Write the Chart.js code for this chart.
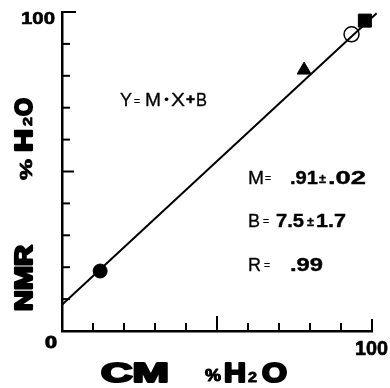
<!DOCTYPE html>
<html>
<head>
<meta charset="utf-8">
<script src="https://cdn.jsdelivr.net/npm/chart.js@4/dist/chart.umd.min.js"></script>
<style>
  body { margin: 0; background: #fff; }
  #grafico { display: block; }
</style>
</head>
<body>
<canvas id="grafico" width="390" height="388"></canvas>
<script>
// datos
const cmValues = [12.3, 78.1, 93.4, 97.7];      // CM %H2O
const nmrValues = [18.8, 81.8, 93.0, 97.3];     // NMR %H2O
const fitX = [0, 101.5];                        // recta de ajuste
const fitY = [8.2, 99.6];
const tickValues = [10, 20, 30, 40, 50, 60, 70, 80, 90, 100];
const axisLabels = ['0', '100'];

const FONT = '"Liberation Sans", Arial, sans-serif';

// dibuja un texto estirado a un ancho dado (y engrosado si grueso > 0)
const textoAncho = (ctx, str, x, y, font, w, grueso) => {
  ctx.font = font;
  const m = ctx.measureText(str).width;
  ctx.save();
  ctx.translate(x, y);
  if (w) ctx.scale(w / m, 1);
  ctx.fillText(str, 0, 0);
  if (grueso) {
    ctx.lineWidth = grueso;
    ctx.lineJoin = 'round';
    ctx.strokeStyle = '#000';
    ctx.strokeText(str, 0, 0);
  }
  ctx.restore();
}

const marcas = {
  id: 'marcas',
  afterDraw(chart) {
    const {ctx, scales: {x, y}} = chart;
    const x0 = x.getPixelForValue(0);
    const y0 = y.getPixelForValue(0);
    ctx.save();
    ctx.strokeStyle = '#000';
    ctx.lineWidth = 2;
    ctx.lineCap = 'butt';
    tickValues.forEach(v => {
      const px = x.getPixelForValue(v);
      const lx = v == 50 ? 15 : (v == 100 ? 12 : 8);
      ctx.beginPath();
      ctx.moveTo(px, y0);
      ctx.lineTo(px, y0 - lx);
      ctx.stroke();
      const py = y.getPixelForValue(v);
      const ly = v == 50 ? 12 : (v == 100 ? 14 : 8);
      ctx.beginPath();
      ctx.moveTo(x0, py);
      ctx.lineTo(x0 + ly, py);
      ctx.stroke();
    });

    ctx.fillStyle = '#000';
    ctx.textAlign = 'left';
    ctx.textBaseline = 'alphabetic';

    // etiquetas 0 y 100
    textoAncho(ctx, axisLabels[0], x0 - 17, y0 + 17, 'bold 16px ' + FONT, 12, 1);
    textoAncho(ctx, axisLabels[1], x.getPixelForValue(100) - 17, y0 + 24, 'bold 20px ' + FONT, 33, 0.6);
    textoAncho(ctx, axisLabels[1], x0 - 41, y.getPixelForValue(100) + 12, 'bold 17px ' + FONT, 34, 0.6);

    // titulo eje x
    textoAncho(ctx, 'CM', 101, 382, 'bold 27px ' + FONT, 68, 2.2);
    textoAncho(ctx, '%', 205, 381, 'bold 16px ' + FONT, 16, 1);
    textoAncho(ctx, 'H', 224, 382, 'bold 27px ' + FONT, 22, 2.2);
    textoAncho(ctx, '2', 248, 382, 'bold 14px ' + FONT, 9, 0.8);
    textoAncho(ctx, 'O', 262, 382, 'bold 27px ' + FONT, 25, 2.2);

    // titulo eje y (girado)
    ctx.save();
    ctx.translate(32, 312);
    ctx.rotate(-Math.PI / 2);
    textoAncho(ctx, 'NMR', 1, 0, 'bold 24px ' + FONT, 66, 2.2);
    ctx.restore();
    ctx.save();
    ctx.translate(32, 180);
    ctx.rotate(-Math.PI / 2);
    textoAncho(ctx, '%', 0, 0, 'bold 16px ' + FONT, 21, 0.8);
    textoAncho(ctx, 'H', 28, 0, 'bold 24px ' + FONT, 23, 2.2);
    textoAncho(ctx, '2', 54, 0, 'bold 13px ' + FONT, 9, 0.8);
    textoAncho(ctx, 'O', 64, 0, 'bold 24px ' + FONT, 18, 2.2);
    ctx.restore();

    // ecuacion
    textoAncho(ctx, 'Y', 120, 106, '18px ' + FONT, 12, 0.3);
    textoAncho(ctx, '=', 134, 105, '11px ' + FONT, 6, 0.3);
    textoAncho(ctx, 'M', 145, 106, '18px ' + FONT, 16, 0.3);
    textoAncho(ctx, '•', 164, 104, '12px ' + FONT, 5);
    textoAncho(ctx, 'X', 171, 106, '18px ' + FONT, 14, 0.3);
    textoAncho(ctx, '+', 186, 104, 'bold 14px ' + FONT, 9, 0.5);
    textoAncho(ctx, 'B', 196, 106, '18px ' + FONT, 11, 0.3);

    // parametros
    textoAncho(ctx, 'M', 248, 184, '18px ' + FONT, 16, 0.3);
    textoAncho(ctx, '=', 265, 182, '11px ' + FONT, 6, 0.3);
    textoAncho(ctx, '.91', 290, 184, 'bold 19px ' + FONT, 28, 0.4);
    textoAncho(ctx, '±', 319, 183, 'bold 12px ' + FONT, 7, 0.3);
    textoAncho(ctx, '.02', 328, 184, 'bold 19px ' + FONT, 38, 0.4);

    textoAncho(ctx, 'B', 248, 227, '18px ' + FONT, 12, 0.3);
    textoAncho(ctx, '=', 263, 225, '11px ' + FONT, 6, 0.3);
    textoAncho(ctx, '7.5', 276, 227, 'bold 19px ' + FONT, 28, 0.4);
    textoAncho(ctx, '±', 307, 226, 'bold 12px ' + FONT, 7, 0.3);
    textoAncho(ctx, '1.7', 316, 227, 'bold 19px ' + FONT, 30, 0.4);

    textoAncho(ctx, 'R', 248, 271, '18px ' + FONT, 13, 0.3);
    textoAncho(ctx, '=', 264, 269, '11px ' + FONT, 6, 0.3);
    textoAncho(ctx, '.99', 290, 271, 'bold 19px ' + FONT, 33, 0.4);
    ctx.restore();
  }
}

const puntos = cmValues.map((v, i) => ({x: v, y: nmrValues[i]}));
const recta = fitX.map((v, i) => ({x: v, y: fitY[i]}));

new Chart(document.getElementById('grafico'), {
  type: 'scatter',
  data: {
    datasets: [{
      type: 'line',
      data: recta,
      borderColor: '#000',
      borderWidth: 2,
      pointRadius: 0,
      clip: false
    }, {
      data: puntos,
      pointStyle: ['circle', 'triangle', 'circle', 'rect'],
      pointRadius: [7, 8, 7.5, 9.2],
      backgroundColor: ['#000', '#000', 'rgba(0,0,0,0)', '#000'],
      borderColor: '#000',
      borderWidth: [1, 1, 1.5, 1],
      clip: false
    }]
  },
  options: {
    responsive: false,
    devicePixelRatio: 1,
    animation: false,
    layout: {padding: {left: 62, top: 12, right: 18, bottom: 57}},
    plugins: {legend: {display: false}, tooltip: {enabled: false}},
    scales: {
      x: {
        type: 'linear', min: 0, max: 100,
        grid: {display: false, drawTicks: false},
        ticks: {display: false},
        border: {display: true, color: '#000', width: 2.5}
      },
      y: {
        type: 'linear', min: 0, max: 100,
        grid: {display: false, drawTicks: false},
        ticks: {display: false},
        border: {display: true, color: '#000', width: 2.5}
      }
    }
  },
  plugins: [marcas]
});
</script>
</body>
</html>
